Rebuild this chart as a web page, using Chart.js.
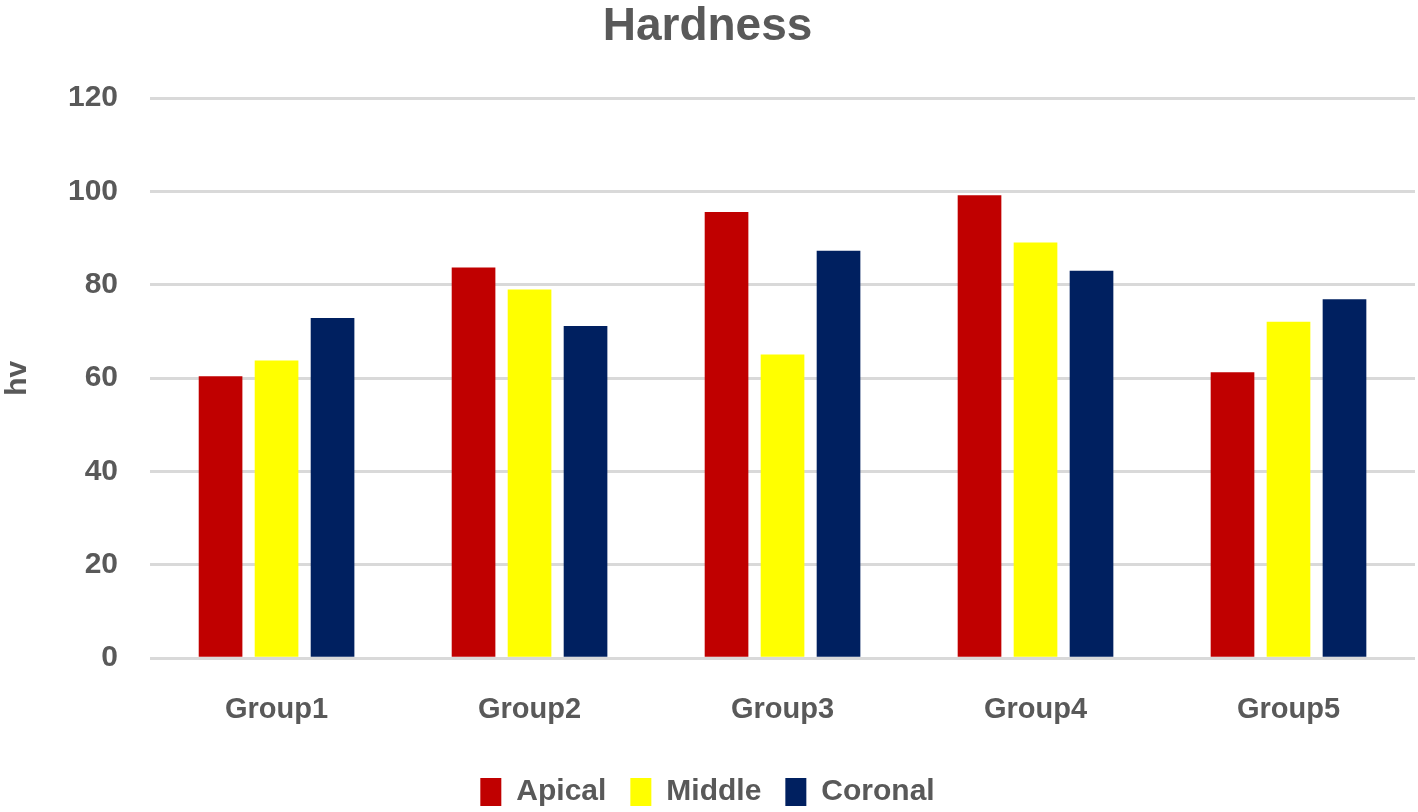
<!DOCTYPE html>
<html>
<head>
<meta charset="utf-8">
<title>Hardness</title>
<script src="https://cdn.jsdelivr.net/npm/chart.js@4/dist/chart.umd.min.js"></script>
<style>
  html, body { margin: 0; padding: 0; background: #ffffff; }
  #wrap { width: 1418px; height: 812px; position: relative; }
</style>
</head>
<body>
<div id="wrap"><canvas id="hardnessChart"></canvas></div>
<script>
const groups = ["Group1", "Group2", "Group3", "Group4", "Group5"];
const apical = [60.4, 83.7, 95.6, 99.2, 61.3];
const middle = [63.8, 79.0, 65.1, 89.1, 72.1];
const coronal = [72.9, 71.2, 87.3, 83.0, 76.9];

const textGray = "#595959";
const gridGray = "#d9d9d9";
const fontFamily = "'Liberation Sans', Arial, sans-serif";

function makeChart() {
  const ctx = document.getElementById("hardnessChart");
  return new Chart(ctx.getContext("2d"), {
    type: "bar",
    data: {
      labels: groups,
      datasets: [
        { label: "Apical", data: apical, backgroundColor: "#C00000" },
        { label: "Middle", data: middle, backgroundColor: "#FFFF00" },
        { label: "Coronal", data: coronal, backgroundColor: "#002060" },
      ],
    },
    options: {
      responsive: true,
      maintainAspectRatio: false,
      animation: false,
      categoryPercentage: 0.664,
      barPercentage: 0.78,
      layout: { padding: { left: 0, right: 3, top: 0, bottom: -5 } },
      scales: {
        x: {
          grid: { display: false },
          border: { display: false },
          ticks: {
            color: textGray,
            font: { family: fontFamily, size: 29, weight: "bold" },
            padding: 26,
          },
        },
        y: {
          min: 0,
          max: 120,
          ticks: {
            stepSize: 20,
            color: textGray,
            font: { family: fontFamily, size: 30, weight: "bold" },
            padding: 32,
          },
          grid: { color: gridGray, lineWidth: 3, drawTicks: false },
          border: { display: false },
          title: {
            display: true,
            text: "hv",
            color: textGray,
            font: { family: fontFamily, size: 30, weight: "bold" },
            padding: { top: 0, bottom: 0 },
          },
        },
      },
      plugins: {
        title: {
          display: true,
          text: "Hardness",
          color: textGray,
          font: { family: fontFamily, size: 46, weight: "bold" },
          padding: { top: 0, bottom: 43 },
        },
        legend: {
          display: true,
          position: "bottom",
          labels: {
            color: textGray,
            font: { family: fontFamily, size: 30, weight: "bold" },
            boxWidth: 21,
            boxHeight: 28,
            padding: 24,
          },
        },
        tooltip: { enabled: false },
      },
    },
  });
}

document.addEventListener("DOMContentLoaded", makeChart);
</script>
</body>
</html>
